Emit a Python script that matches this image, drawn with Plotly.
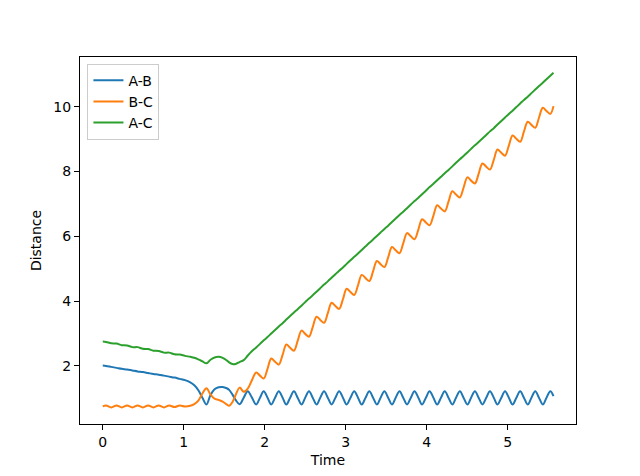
import plotly.graph_objects as go

# ---- data ----
time = [0, 0.04, 0.105, 0.17, 0.235, 0.30, 0.365, 0.43, 0.495, 0.56, 0.625, 0.69,
        0.755, 0.82, 0.885, 0.95, 1.015, 1.08, 1.13, 1.18, 1.23, 1.28, 1.33, 1.38,
        1.43, 1.48, 1.53, 1.56, 1.60, 1.64, 1.69, 1.74, 1.79, 1.84,
        1.894, 1.941, 1.987, 2.034, 2.080, 2.127, 2.173, 2.220, 2.266, 2.313,
        2.360, 2.406, 2.453, 2.499, 2.546, 2.592, 2.639, 2.685, 2.732, 2.778,
        2.825, 2.872, 2.918, 2.965, 3.011, 3.058, 3.104, 3.151, 3.197, 3.244,
        3.291, 3.337, 3.384, 3.430, 3.477, 3.523, 3.570, 3.616, 3.663, 3.709,
        3.756, 3.803, 3.849, 3.896, 3.942, 3.989, 4.035, 4.082, 4.128, 4.175,
        4.222, 4.268, 4.315, 4.361, 4.408, 4.454, 4.501, 4.547, 4.594, 4.640,
        4.687, 4.734, 4.780, 4.827, 4.873, 4.920, 4.966, 5.013, 5.059, 5.106,
        5.153, 5.199, 5.246, 5.292, 5.339, 5.385, 5.432, 5.478, 5.525, 5.564]

dist_ab = [2.01, 2.00, 1.97, 1.94, 1.91, 1.89, 1.86, 1.83, 1.81, 1.78, 1.75, 1.73,
           1.70, 1.67, 1.64, 1.60, 1.56, 1.49, 1.40, 1.25, 1.02, 0.81, 1.10, 1.28,
           1.34, 1.35, 1.31, 1.26, 1.12, 0.95, 0.82, 1.02, 1.22, 1.03,
           0.81, 1.02, 1.22, 1.02, 0.81, 1.02, 1.22, 1.02, 0.81, 1.02,
           1.22, 1.02, 0.81, 1.02, 1.22, 1.02, 0.81, 1.02, 1.22, 1.02,
           0.81, 1.02, 1.22, 1.02, 0.81, 1.02, 1.22, 1.02, 0.81, 1.02,
           1.22, 1.02, 0.81, 1.02, 1.22, 1.02, 0.81, 1.02, 1.22, 1.02,
           0.81, 1.02, 1.22, 1.02, 0.81, 1.02, 1.22, 1.02, 0.81, 1.02,
           1.22, 1.02, 0.81, 1.02, 1.22, 1.02, 0.81, 1.02, 1.22, 1.02,
           0.81, 1.02, 1.22, 1.02, 0.81, 1.02, 1.22, 1.02, 0.81, 1.02,
           1.22, 1.02, 0.81, 1.02, 1.22, 1.02, 0.81, 1.02, 1.22, 1.07]

dist_bc = [0.75, 0.78, 0.72, 0.78, 0.72, 0.78, 0.72, 0.78, 0.72, 0.78, 0.72, 0.78,
           0.72, 0.78, 0.73, 0.78, 0.75, 0.77, 0.82, 0.93, 1.15, 1.31, 1.12, 0.99,
           0.95, 0.90, 0.81, 0.77, 0.88, 1.10, 1.33, 1.20, 1.30, 1.55,
           1.80, 1.70, 1.61, 1.91, 2.23, 2.13, 2.04, 2.34, 2.66, 2.56,
           2.47, 2.77, 3.09, 2.99, 2.90, 3.20, 3.52, 3.42, 3.33, 3.63,
           3.95, 3.85, 3.76, 4.06, 4.38, 4.28, 4.19, 4.49, 4.81, 4.71,
           4.62, 4.92, 5.24, 5.14, 5.05, 5.35, 5.67, 5.57, 5.48, 5.78,
           6.10, 6.00, 5.91, 6.21, 6.53, 6.43, 6.34, 6.64, 6.96, 6.86,
           6.77, 7.07, 7.39, 7.29, 7.20, 7.50, 7.82, 7.72, 7.63, 7.93,
           8.25, 8.15, 8.06, 8.36, 8.68, 8.58, 8.49, 8.80, 9.11, 9.01,
           8.92, 9.23, 9.54, 9.44, 9.35, 9.66, 9.97, 9.87, 9.78, 10.02]

dist_ac = [2.75, 2.74, 2.70, 2.69, 2.64, 2.63, 2.58, 2.58, 2.53, 2.52, 2.47, 2.46,
           2.41, 2.41, 2.36, 2.35, 2.31, 2.28, 2.25, 2.20, 2.14, 2.08, 2.19, 2.26,
           2.28, 2.25, 2.17, 2.11, 2.06, 2.06, 2.12, 2.18, 2.32, 2.45,
           2.57, 2.68, 2.79, 2.89, 3.00, 3.11, 3.22, 3.32, 3.43, 3.54,
           3.65, 3.75, 3.86, 3.97, 4.08, 4.18, 4.29, 4.40, 4.51, 4.61,
           4.72, 4.83, 4.94, 5.04, 5.15, 5.26, 5.37, 5.47, 5.58, 5.69,
           5.80, 5.90, 6.01, 6.12, 6.23, 6.33, 6.44, 6.55, 6.66, 6.76,
           6.87, 6.98, 7.09, 7.19, 7.30, 7.41, 7.52, 7.62, 7.73, 7.84,
           7.95, 8.05, 8.16, 8.27, 8.38, 8.48, 8.59, 8.70, 8.81, 8.91,
           9.02, 9.13, 9.24, 9.34, 9.45, 9.56, 9.67, 9.78, 9.88, 9.99,
           10.10, 10.21, 10.31, 10.42, 10.53, 10.64, 10.74, 10.85, 10.96, 11.05]

series_names = ["A-B", "B-C", "A-C"]
series_colors = ["#1f77b4", "#ff7f0e", "#2ca02c"]
x_ticks = [0, 1, 2, 3, 4, 5]
y_ticks = [2, 4, 6, 8, 10]

fig = go.Figure()
for name, ys, col in zip(series_names, [dist_ab, dist_bc, dist_ac], series_colors):
    fig.add_trace(go.Scatter(x=time, y=ys, mode="lines", name=name,
                             line=dict(color=col, width=2, shape="spline", smoothing=1.0)))

axis_common = dict(showline=True, linecolor="black", linewidth=1, mirror=True,
                   ticks="outside", ticklen=5, tickwidth=1, tickcolor="black",
                   showgrid=False, zeroline=False, automargin=False,
                   tickfont=dict(size=14, family="DejaVu Sans", color="black"))

# page body adds an 8px offset, so the figure is 8px smaller and margins shifted
fig.update_layout(
    width=632, height=468,
    margin=dict(l=72, r=64, t=49, b=52),
    plot_bgcolor="white", paper_bgcolor="white",
    font=dict(family="DejaVu Sans", size=14, color="black"),
    legend=dict(x=0.015, y=0.982, xanchor="left", yanchor="top",
                bordercolor="#cccccc", borderwidth=1,
                bgcolor="rgba(255,255,255,0.8)", font=dict(size=14)),
    xaxis=dict(range=[-0.281, 5.842], tickvals=x_ticks,
               title=dict(text="Time", standoff=6, font=dict(size=14)), **axis_common),
    yaxis=dict(range=[0.207, 11.536], tickvals=y_ticks,
               title=dict(text="Distance", standoff=8, font=dict(size=14)), **axis_common),
)

fig.write_html("out.html")
